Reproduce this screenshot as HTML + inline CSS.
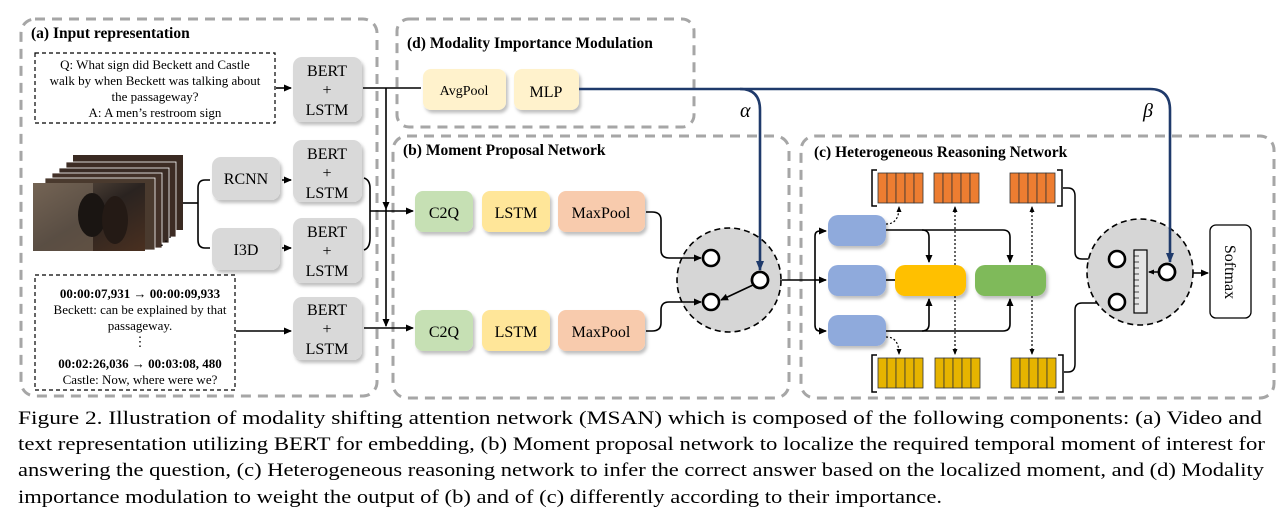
<!DOCTYPE html>
<html><head><meta charset="utf-8"><style>
html,body{margin:0;padding:0;background:#fff;width:1284px;height:524px;overflow:hidden}
svg{display:block}
svg text{font-family:"Liberation Serif","Times New Roman",Times,serif !important}
</style></head><body>
<svg width="1284" height="524" viewBox="0 0 1284 524" xmlns="http://www.w3.org/2000/svg" font-family="Liberation Serif, Times New Roman, serif">
<defs>
<marker id="ar" markerWidth="8" markerHeight="8" refX="7" refY="4" orient="auto" markerUnits="userSpaceOnUse"><path d="M0,0.5 L8,4 L0,7.5z" fill="#000"/></marker>
<marker id="ab" markerWidth="10" markerHeight="10" refX="9" refY="5" orient="auto" markerUnits="userSpaceOnUse"><path d="M0,1 L10,5 L0,9z" fill="#1f3a6b"/></marker>
<marker id="as" markerWidth="6" markerHeight="6" refX="5" refY="3" orient="auto" markerUnits="userSpaceOnUse"><path d="M0,0.5 L6,3 L0,5.5z" fill="#000"/></marker>
<filter id="sh" x="-10%" y="-10%" width="130%" height="140%"><feDropShadow dx="2" dy="3" stdDeviation="1.5" flood-color="#000" flood-opacity="0.25"/></filter>
<linearGradient id="vid" x1="0" y1="0" x2="1" y2="1"><stop offset="0" stop-color="#6b5a4a"/><stop offset="0.5" stop-color="#2a2320"/><stop offset="1" stop-color="#4a3020"/></linearGradient>
</defs>
<g fill="none" stroke="#a6a6a6" stroke-width="3" stroke-dasharray="10,7">
<rect x="21" y="19" width="356" height="377" rx="14"/>
<rect x="397" y="19" width="297" height="108" rx="12"/>
<rect x="393" y="136" width="396" height="262" rx="14"/>
<rect x="801" y="136" width="473" height="262" rx="14"/>
</g>
<g font-weight="bold" font-size="15.5" fill="#000">
<text x="31" y="38">(a) Input representation</text>
<text x="407" y="48">(d) Modality Importance Modulation</text>
<text x="403" y="155">(b) Moment Proposal Network</text>
<text x="814" y="157">(c) Heterogeneous Reasoning Network</text>
</g>
<!-- (a) -->
<rect x="35" y="53" width="240" height="70" fill="none" stroke="#000" stroke-width="1.2" stroke-dasharray="4,3"/>
<g font-size="13" text-anchor="middle" fill="#000">
<text x="155" y="69">Q: What sign did Beckett and Castle</text>
<text x="155" y="85">walk by when Beckett was talking about</text>
<text x="155" y="101">the passageway?</text>
<text x="155" y="117">A: A men’s restroom sign</text>
</g>
<rect x="35" y="275" width="200" height="115" fill="none" stroke="#000" stroke-width="1.2" stroke-dasharray="4,3"/>
<g font-size="13" text-anchor="middle" fill="#000">
<text x="140" y="298" font-weight="bold">00:00:07,931 → 00:00:09,933</text>
<text x="140" y="314">Beckett: can be explained by that</text>
<text x="140" y="330">passageway.</text>
<text x="140" y="346">⋮</text>
<text x="140" y="368" font-weight="bold">00:02:26,036 → 00:03:08, 480</text>
<text x="140" y="384">Castle: Now, where were we?</text>
</g>
<g>
<rect x="73" y="155" width="110" height="75" fill="#3a2a22"/>
<rect x="66" y="162" width="110" height="75" fill="#3d2c24" stroke="#fff" stroke-width="0.8"/>
<rect x="59" y="168" width="110" height="75" fill="#3a2b24" stroke="#fff" stroke-width="0.8"/>
<rect x="52" y="173" width="110" height="75" fill="#433128" stroke="#fff" stroke-width="0.8"/>
<rect x="45" y="178" width="110" height="72" fill="#4a3a2e" stroke="#fff" stroke-width="0.8"/>
<rect x="33" y="183" width="112" height="68" fill="url(#vid)"/>
<rect x="33" y="183" width="60" height="68" fill="#7a6a5c" opacity="0.6"/>
<ellipse cx="92" cy="215" rx="14" ry="22" fill="#1a1512"/>
<ellipse cx="115" cy="220" rx="13" ry="24" fill="#241a15"/>
<text x="160" y="245" font-size="12">⋰</text>
</g>
<g filter="url(#sh)" fill="#d9d9d9">
<rect x="293" y="57" width="69" height="65" rx="9"/>
<rect x="293" y="140" width="69" height="62" rx="9"/>
<rect x="293" y="218" width="69" height="65" rx="9"/>
<rect x="293" y="297" width="69" height="63" rx="9"/>
<rect x="212" y="157" width="68" height="43" rx="9"/>
<rect x="212" y="228" width="68" height="42" rx="9"/>
</g>
<g font-size="16" text-anchor="middle" fill="#000">
<text x="327" y="76">BERT</text><text x="327" y="95">+</text><text x="327" y="115">LSTM</text>
<text x="327" y="159">BERT</text><text x="327" y="178">+</text><text x="327" y="198">LSTM</text>
<text x="327" y="237">BERT</text><text x="327" y="256">+</text><text x="327" y="276">LSTM</text>
<text x="327" y="315">BERT</text><text x="327" y="334">+</text><text x="327" y="354">LSTM</text>
<text x="246" y="184">RCNN</text>
<text x="246" y="255">I3D</text>
</g>
<g stroke="#000" stroke-width="1.6" fill="none">
<line x1="276" y1="88" x2="291" y2="88" marker-end="url(#ar)"/>
<line x1="183" y1="203" x2="198" y2="203"/>
<path d="M210,180 H205 Q198,180 198,188 V240 Q198,248 205,248 H210"/>
<line x1="282" y1="180" x2="291" y2="180" marker-end="url(#ar)"/>
<line x1="282" y1="248" x2="291" y2="248" marker-end="url(#ar)"/>
<path d="M364,178 Q370,180 370,188 V238 Q370,248 364,250"/>
<line x1="370" y1="211" x2="413" y2="211" marker-end="url(#ar)"/>
<line x1="236" y1="331" x2="291" y2="331" marker-end="url(#ar)"/>
<line x1="364" y1="328" x2="413" y2="328" marker-end="url(#ar)"/>
<line x1="363" y1="88" x2="421" y2="88"/>
<line x1="386" y1="88" x2="386" y2="209" marker-end="url(#ar)"/>
<line x1="386" y1="209" x2="386" y2="326" marker-end="url(#ar)"/>
</g>
<!-- (d) -->
<g filter="url(#sh)" fill="#fff2cc">
<rect x="423" y="69" width="83" height="41" rx="8"/>
<rect x="514" y="69" width="65" height="41" rx="8"/>
</g>
<text x="464" y="95" font-size="14" text-anchor="middle">AvgPool</text>
<text x="546" y="97" font-size="16" text-anchor="middle">MLP</text>
<text x="740" y="117" font-size="20" font-style="italic">α</text>
<text x="1143" y="117" font-size="20" font-style="italic">β</text>
<!-- (b) -->
<g filter="url(#sh)">
<rect x="415" y="191" width="58" height="41" rx="8" fill="#c6e0b4"/>
<rect x="482" y="191" width="68" height="41" rx="8" fill="#ffe699"/>
<rect x="558" y="191" width="87" height="41" rx="8" fill="#f8cbad"/>
<rect x="415" y="310" width="58" height="41" rx="8" fill="#c6e0b4"/>
<rect x="482" y="310" width="68" height="41" rx="8" fill="#ffe699"/>
<rect x="558" y="310" width="87" height="41" rx="8" fill="#f8cbad"/>
</g>
<g font-size="16" text-anchor="middle">
<text x="444" y="218">C2Q</text><text x="516" y="218">LSTM</text><text x="601" y="218">MaxPool</text>
<text x="444" y="337">C2Q</text><text x="516" y="337">LSTM</text><text x="601" y="337">MaxPool</text>
</g>
<circle cx="729" cy="280" r="52" fill="#d6d6d6" stroke="#000" stroke-width="1.6" stroke-dasharray="6,4"/>
<g fill="#fff" stroke="#000" stroke-width="2.6">
<circle cx="711" cy="258" r="8"/><circle cx="711" cy="302" r="8"/><circle cx="760" cy="280" r="8"/>
</g>
<g stroke="#000" stroke-width="1.6" fill="none">
<path d="M646,212 H652 Q661,212 661,220 V250 Q661,258 669,258 H701" marker-end="url(#ar)"/>
<path d="M646,331 H652 Q661,331 661,323 V310 Q661,302 669,302 H701" marker-end="url(#ar)"/>
<line x1="753" y1="285" x2="721" y2="300" marker-end="url(#ar)"/>
<line x1="782" y1="280" x2="815" y2="280"/>
<path d="M815,280 V236 Q815,231 820,231 H826" marker-end="url(#ar)"/>
<line x1="815" y1="280" x2="826" y2="280" marker-end="url(#ar)"/>
<path d="M815,280 V325 Q815,331 820,331 H826" marker-end="url(#ar)"/>
</g>
<!-- (c) -->
<g filter="url(#sh)">
<rect x="828" y="215" width="58" height="31" rx="10" fill="#8faadc"/>
<rect x="828" y="265" width="58" height="31" rx="10" fill="#8faadc"/>
<rect x="828" y="315" width="58" height="31" rx="10" fill="#8faadc"/>
<rect x="895" y="265" width="71" height="31" rx="10" fill="#ffc000"/>
<rect x="975" y="265" width="71" height="31" rx="10" fill="#7fba5a"/>
</g>
<g stroke="#000" stroke-width="1.6" fill="none">
<line x1="886" y1="280" x2="895" y2="280"/>
<path d="M886,230 H922 Q929,230 929,237 V262" marker-end="url(#ar)"/>
<path d="M922,230 H1003 Q1010,230 1010,237 V262" marker-end="url(#ar)"/>
<path d="M886,331 H922 Q929,331 929,324 V299" marker-end="url(#ar)"/>
<path d="M922,331 H1003 Q1010,331 1010,324 V299" marker-end="url(#ar)"/>
</g>
<g stroke="#000" stroke-width="1.2" fill="none" stroke-dasharray="2,2">
<path d="M886,224 Q899,224 899,207" marker-end="url(#as)"/>
<path d="M886,337 Q899,337 899,354" marker-end="url(#as)"/>
<line x1="955" y1="265" x2="955" y2="207" marker-end="url(#as)"/>
<line x1="955" y1="296" x2="955" y2="354" marker-end="url(#as)"/>
<line x1="1032" y1="265" x2="1032" y2="207" marker-end="url(#as)"/>
<line x1="1032" y1="296" x2="1032" y2="354" marker-end="url(#as)"/>
</g>
<g stroke="#333" stroke-width="0.8" fill="#ed7d31">
<rect x="878" y="173" width="9" height="30"/><rect x="887" y="173" width="9" height="30"/><rect x="896" y="173" width="9" height="30"/><rect x="905" y="173" width="9" height="30"/><rect x="914" y="173" width="9" height="30"/>
<rect x="934" y="173" width="9" height="30"/><rect x="943" y="173" width="9" height="30"/><rect x="952" y="173" width="9" height="30"/><rect x="961" y="173" width="9" height="30"/><rect x="970" y="173" width="9" height="30"/>
<rect x="1010" y="173" width="9" height="30"/><rect x="1019" y="173" width="9" height="30"/><rect x="1028" y="173" width="9" height="30"/><rect x="1037" y="173" width="9" height="30"/><rect x="1046" y="173" width="9" height="30"/>
</g>
<g stroke="#333" stroke-width="0.8" fill="#e6b400">
<rect x="878" y="358" width="9" height="30"/><rect x="887" y="358" width="9" height="30"/><rect x="896" y="358" width="9" height="30"/><rect x="905" y="358" width="9" height="30"/><rect x="914" y="358" width="9" height="30"/>
<rect x="935" y="358" width="9" height="30"/><rect x="944" y="358" width="9" height="30"/><rect x="953" y="358" width="9" height="30"/><rect x="962" y="358" width="9" height="30"/><rect x="971" y="358" width="9" height="30"/>
<rect x="1011" y="358" width="9" height="30"/><rect x="1020" y="358" width="9" height="30"/><rect x="1029" y="358" width="9" height="30"/><rect x="1038" y="358" width="9" height="30"/><rect x="1047" y="358" width="9" height="30"/>
</g>
<g stroke="#000" stroke-width="1.5" fill="none">
<path d="M877,170 H872 V206 H877"/><path d="M1057,170 H1062 V206 H1057"/>
<path d="M877,355 H872 V392 H877"/><path d="M1058,355 H1063 V392 H1058"/>
<path d="M1063,188 H1068 Q1075,188 1075,196 V252 Q1075,259 1082,259 H1107" marker-end="url(#ar)"/>
<path d="M1064,372 H1068 Q1075,372 1075,364 V310 Q1075,303 1082,303 H1107" marker-end="url(#ar)"/>
<line x1="1192" y1="273" x2="1208" y2="273" marker-end="url(#ar)"/>
</g>
<circle cx="1140" cy="272" r="53" fill="#d6d6d6" stroke="#000" stroke-width="1.6" stroke-dasharray="6,4"/>
<g fill="#fff" stroke="#000" stroke-width="2.6">
<circle cx="1117" cy="259" r="8"/><circle cx="1117" cy="302" r="8"/><circle cx="1167" cy="272" r="8"/>
</g>
<rect x="1134" y="250" width="13" height="63" fill="#e6e6e6" stroke="#000" stroke-width="1.2"/>
<g stroke="#000" stroke-width="0.7">
<line x1="1134" y1="256" x2="1139" y2="256"/><line x1="1134" y1="262" x2="1139" y2="262"/><line x1="1134" y1="268" x2="1139" y2="268"/><line x1="1134" y1="274" x2="1139" y2="274"/><line x1="1134" y1="280" x2="1139" y2="280"/><line x1="1134" y1="286" x2="1139" y2="286"/><line x1="1134" y1="292" x2="1139" y2="292"/><line x1="1134" y1="298" x2="1139" y2="298"/><line x1="1134" y1="304" x2="1139" y2="304"/>
</g>
<line x1="1159" y1="272" x2="1149" y2="272" stroke="#000" stroke-width="1.5" marker-end="url(#as)"/>
<rect x="1210" y="225" width="41" height="93" rx="6" fill="#fff" stroke="#000" stroke-width="1.3"/>
<text transform="translate(1225,272) rotate(90)" font-size="16" text-anchor="middle">Softmax</text>
<!-- blue lines on top -->
<path d="M579,89 H740 Q760,89 760,110 V270" stroke="#1f3a6b" stroke-width="2.6" fill="none" marker-end="url(#ab)"/>
<path d="M740,89 H1150 Q1170,89 1170,110 V262" stroke="#1f3a6b" stroke-width="2.6" fill="none" marker-end="url(#ab)"/>
<circle cx="760" cy="280" r="8" fill="#fff" stroke="#000" stroke-width="2.6"/>
<circle cx="1167" cy="272" r="8" fill="#fff" stroke="#000" stroke-width="2.6"/>
<!-- caption -->
<g font-size="19" fill="#000">
<text x="18" y="424" textLength="1244" lengthAdjust="spacingAndGlyphs">Figure 2. Illustration of modality shifting attention network (MSAN) which is composed of the following components: (a) Video and</text>
<text x="18" y="450" textLength="1247" lengthAdjust="spacingAndGlyphs">text representation utilizing BERT for embedding, (b) Moment proposal network to localize the required temporal moment of interest for</text>
<text x="18" y="476" textLength="1246" lengthAdjust="spacingAndGlyphs">answering the question, (c) Heterogeneous reasoning network to infer the correct answer based on the localized moment, and (d) Modality</text>
<text x="18" y="503" textLength="924" lengthAdjust="spacingAndGlyphs">importance modulation to weight the output of (b) and of (c) differently according to their importance.</text>
</g>
</svg>
</body></html>
